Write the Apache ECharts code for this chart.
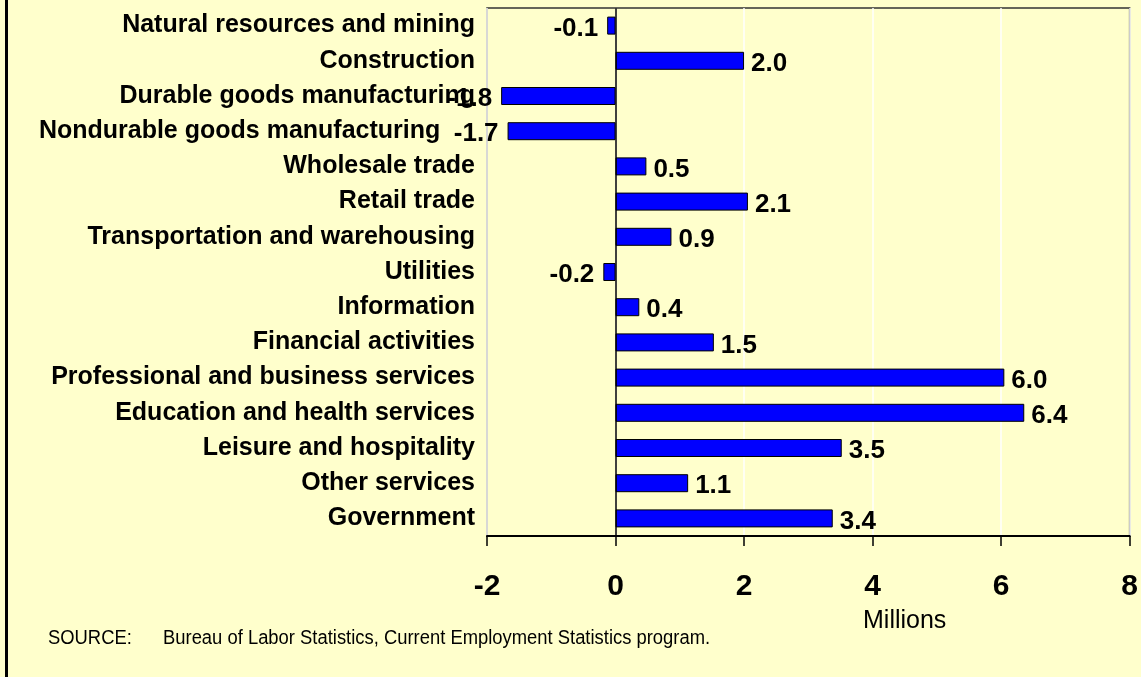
<!DOCTYPE html>
<html><head><meta charset="utf-8">
<script src="https://cdn.jsdelivr.net/npm/echarts@6/dist/echarts.min.js"></script>
<style>html,body{margin:0;padding:0;background:#FFFFCC;}#c{width:1141px;height:677px;}</style>
</head><body><div id="c"></div>
<script>
const categories = ["Natural resources and mining","Construction","Durable goods manufacturing","Nondurable goods manufacturing     ","Wholesale trade","Retail trade","Transportation and warehousing","Utilities","Information","Financial activities","Professional and business services","Education and health services","Leisure and hospitality","Other services","Government"];
const values = [-0.13, 2.0, -1.78, -1.68, 0.48, 2.06, 0.87, -0.19, 0.37, 1.53, 6.05, 6.36, 3.52, 1.13, 3.38];
const valueLabels = ["-0.1","2.0","-1.8","-1.7","0.5","2.1","0.9","-0.2","0.4","1.5","6.0","6.4","3.5","1.1","3.4"];
const xTicks = [-2, 0, 2, 4, 6, 8];

const chart = echarts.init(document.getElementById('c'), null, {renderer:'canvas'});
const data = values.map((v,i)=>({
  value: v,
  label: {
    show: true,
    position: v < 0 ? 'left' : 'right',
    distance: v < 0 ? 9 : 7,
    formatter: valueLabels[i],
    fontFamily: 'Liberation Sans, Arial, sans-serif',
    fontWeight: 'bold', fontSize: 26, color: '#000',
    offset: [0, 3]
  }
}));
chart.setOption({
  backgroundColor: '#FFFFCC',
  animation: false,
  grid: {left: 487, right: 8, top: 8, bottom: 141, show: true, borderColor: '#333', borderWidth: 1.5, backgroundColor: 'transparent'},
  xAxis: {
    type: 'value', min: xTicks[0], max: xTicks[xTicks.length-1], interval: 2,
    axisLine: {show: true, onZero: false, lineStyle: {color: '#000', width: 2}},
    axisTick: {show: true, inside: false, length: 10, lineStyle: {color: '#000', width: 1.5}},
    splitLine: {show: true, lineStyle: {color: '#FFFFFF', width: 1.5}},
    axisLabel: {margin: 36, fontFamily: 'Liberation Sans, Arial, sans-serif', fontWeight: 'bold', fontSize: 30, color: '#000',
      formatter: v => xTicks.includes(v) ? String(v) : ''}
  },
  yAxis: {
    type: 'category', data: categories, inverse: true,
    axisLine: {show: false}, axisTick: {show: false}, splitLine: {show: false},
    axisLabel: {margin: 12, fontFamily: 'Liberation Sans, Arial, sans-serif', fontWeight: 'bold', fontSize: 25, color: '#000'}
  },
  series: [{
    type: 'bar', data: data, barWidth: 18,
    itemStyle: {color: '#0000FF', borderColor: '#000', borderWidth: 1},
    markLine: {silent: true, symbol: 'none', label: {show: false},
      lineStyle: {color: '#000', width: 1.5, type: 'solid'}, data: [{xAxis: 0}]}
  }],
  graphic: [
    {type: 'rect', left: 5, top: 0, shape: {width: 3, height: 677}, style: {fill: '#000'}},
    {type: 'text', x: 863, y: 609, style: {text: 'Millions', font: '25px "Liberation Sans", Arial, sans-serif', fill: '#000'}},
    {type: 'text', x: 48, y: 628, scaleX: 0.92, style: {text: 'SOURCE:', font: '20px "Liberation Sans", Arial, sans-serif', fill: '#000'}},
    {type: 'text', x: 163, y: 628, scaleX: 0.92, style: {text: 'Bureau of Labor Statistics, Current Employment Statistics program.', font: '20px "Liberation Sans", Arial, sans-serif', fill: '#000'}}
  ]
});
</script></body></html>
